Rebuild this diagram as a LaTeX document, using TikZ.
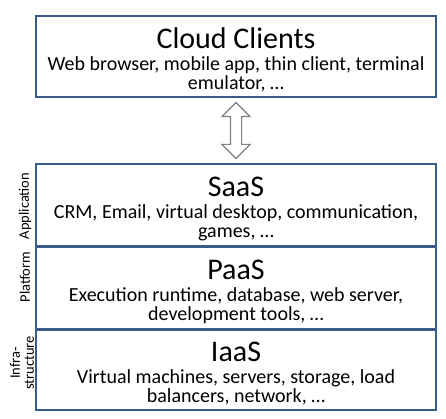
\documentclass[tikz,border=0pt]{standalone}
\usepackage{fontspec}
\setmainfont{Carlito}
\usetikzlibrary{positioning, calc, shapes.arrows}
\definecolor{boxblue}{HTML}{385D8A}
\definecolor{arrowgray}{HTML}{808080}
\newcommand\layertitle[1]{{\fontsize{30}{30}\selectfont\rule{0pt}{27pt}#1}}
\tikzset{
    layer/.style={line width=1.5pt, draw=boxblue, minimum width=400pt, inner sep=0pt,
        align=center, font=\fontsize{20}{19}\selectfont},
    sidelabel/.style={rotate=90, align=center, inner sep=0pt, font=\fontsize{14.5}{14}\selectfont},
}

\begin{document}
\begin{tikzpicture}[x=1pt, y=1pt]
    \useasboundingbox (0, 0) rectangle (446, 418);
    \newcommand\posX{236}

    \node[layer, minimum height=81pt] (clients) at (\posX, 361.5){\layertitle{Cloud Clients}\\[3pt]
        Web browser, mobile app, thin client, terminal\\ emulator, \dots};

    \node[layer, minimum height=82pt] (saas) at (\posX, 213){\layertitle{SaaS}\\[3pt]
        CRM, Email, virtual desktop, communication,\\ games, \dots};
    \node[layer, minimum height=81pt, below=0pt of saas] (paas){\layertitle{PaaS}\\[3pt]
        Execution runtime, database, web server,\\ development tools, \dots};
    \node[layer, minimum height=80pt, below=0pt of paas] (iaas){\layertitle{IaaS}\\[3pt]
        Virtual machines, servers, storage, load\\ balancers, network, \dots};

    % clients <-> service stack
    \node[double arrow, rotate=90, draw=arrowgray, line width=1.2pt, fill=white,
        minimum height=56pt, minimum width=27pt, inner xsep=0pt, inner ysep=5pt,
        double arrow head extend=8.5pt] (link) at ($(clients.south)!0.5!(saas.north)$){};

    \node[sidelabel] (labA) at (25, 212){Application};
    \node[sidelabel] (labP) at (25, 141){Platform};
    \node[sidelabel] (labI) at (22, 55){Infra-\\structure};
\end{tikzpicture}
\end{document}
